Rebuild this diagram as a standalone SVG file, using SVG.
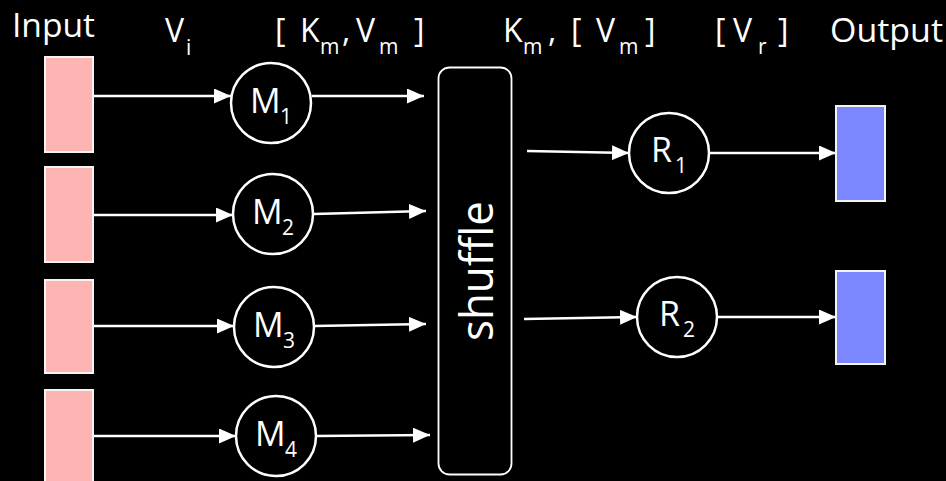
<svg xmlns="http://www.w3.org/2000/svg" width="946" height="481" viewBox="0 0 946 481">
<style>
.lbl{font-family:"Open Sans","DejaVu Sans",sans-serif;font-size:32px;fill:#fff}
.sub{font-size:21px}
.node{font-family:"Open Sans","DejaVu Sans",sans-serif;font-size:34px;fill:#fff}
.inp{fill:#ffb4b4;stroke:#f4f4f4;stroke-width:2}
.out{fill:#7b87ff;stroke:#f4f4f4;stroke-width:2}
.circ{fill:#000;stroke:#fff;stroke-width:2.5}
.edge{stroke:#fff;stroke-width:2.5;fill:none;marker-end:url(#ah)}
</style>
<defs>
<marker id="ah" markerUnits="userSpaceOnUse" markerWidth="17" markerHeight="15" refX="17" refY="7.5" orient="auto">
<path d="M0,0 L17,7.5 L0,15 Z" fill="#fff"/>
</marker>
</defs>
<rect width="946" height="481" fill="#000"/>
<g id="labels">
<text class="lbl" x="12" y="37" textLength="83" lengthAdjust="spacingAndGlyphs">Input</text>
<text class="lbl"><tspan x="165" y="42">V</tspan><tspan class="sub" x="186" y="55">i</tspan></text>
<text class="lbl"><tspan x="275" y="42">[</tspan><tspan x="300" y="42">K</tspan><tspan class="sub" x="320" y="54">m</tspan><tspan x="342" y="42">,</tspan><tspan x="356" y="42">V</tspan><tspan class="sub" x="379" y="54">m</tspan><tspan x="414" y="42">]</tspan></text>
<text class="lbl"><tspan x="503" y="42">K</tspan><tspan class="sub" x="523" y="54">m</tspan><tspan x="548" y="42">,</tspan><tspan x="571" y="42">[</tspan><tspan x="596" y="42">V</tspan><tspan class="sub" x="619" y="54">m</tspan><tspan x="645" y="42">]</tspan></text>
<text class="lbl"><tspan x="715" y="42">[</tspan><tspan x="733" y="42">V</tspan><tspan class="sub" x="758" y="54">r</tspan><tspan x="778" y="42">]</tspan></text>
<text class="lbl" x="830" y="42" textLength="113" lengthAdjust="spacingAndGlyphs">Output</text>
</g>
<g id="connectors">
<path class="edge" d="M94,96 L231,96"/>
<path class="edge" d="M94,215 L233,215"/>
<path class="edge" d="M94,326 L234,326"/>
<path class="edge" d="M94,436 L236,436"/>
<path class="edge" d="M312,96 L424,96"/>
<path class="edge" d="M314,214 L426,211"/>
<path class="edge" d="M314,326 L426,324"/>
<path class="edge" d="M316,436 L430,435"/>
<path class="edge" d="M527,151 L629,153"/>
<path class="edge" d="M524,319 L637,317"/>
<path class="edge" d="M709,153 L836,153"/>
<path class="edge" d="M717,317 L836,317"/>
</g>
<g id="input1"><rect class="inp" x="45" y="57" width="48" height="95"/></g>
<g id="input2"><rect class="inp" x="45" y="167" width="48" height="95"/></g>
<g id="input3"><rect class="inp" x="45" y="280" width="48" height="93"/></g>
<g id="input4"><rect class="inp" x="45" y="390" width="48" height="95"/></g>
<g id="M1"><circle class="circ" cx="271" cy="103" r="40"/><text class="node"><tspan x="250" y="113">M</tspan><tspan class="sub" x="280" y="124">1</tspan></text></g>
<g id="M2"><circle class="circ" cx="273" cy="214" r="40"/><text class="node"><tspan x="252" y="224">M</tspan><tspan class="sub" x="282" y="235">2</tspan></text></g>
<g id="M3"><circle class="circ" cx="274" cy="327" r="40"/><text class="node"><tspan x="253" y="337">M</tspan><tspan class="sub" x="283" y="348">3</tspan></text></g>
<g id="M4"><circle class="circ" cx="276" cy="436" r="40"/><text class="node"><tspan x="255" y="446">M</tspan><tspan class="sub" x="285" y="457">4</tspan></text></g>
<g id="shuffle"><rect x="438.5" y="67.5" width="73" height="407" rx="11" fill="#000" stroke="#fff" stroke-width="1.8"/><text class="lbl" style="font-size:46px" text-anchor="middle" transform="translate(493,271) rotate(-90)" textLength="140" lengthAdjust="spacingAndGlyphs">shuffle</text></g>
<g id="R1"><circle class="circ" cx="669" cy="153" r="40"/><text class="node"><tspan x="651" y="162">R</tspan><tspan class="sub" x="675" y="173">1</tspan></text></g>
<g id="R2"><circle class="circ" cx="677" cy="317" r="40"/><text class="node"><tspan x="659" y="326">R</tspan><tspan class="sub" x="683" y="337">2</tspan></text></g>
<g id="output1"><rect class="out" x="836" y="106" width="49" height="95"/></g>
<g id="output2"><rect class="out" x="836" y="271" width="49" height="93"/></g>
</svg>
